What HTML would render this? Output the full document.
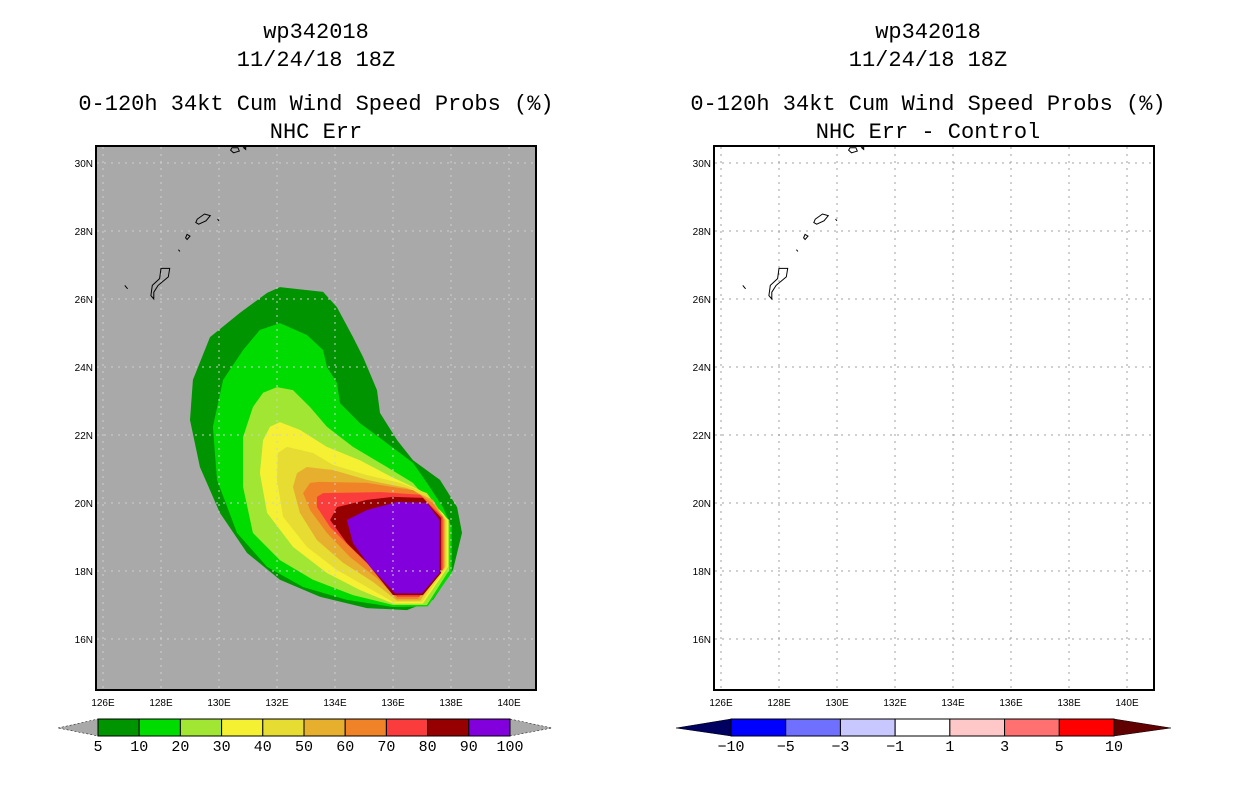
<!DOCTYPE html>
<html><head><meta charset="utf-8"><style>
html,body{margin:0;padding:0;background:#fff;}
svg{display:block;font-family:"Liberation Sans",sans-serif;}
</style></head><body>
<svg id="c" width="1236" height="800" viewBox="0 0 1236 800">
</svg>
<script>
// ---- data ----
const lonTicks=[126,128,130,132,134,136,138,140];
const latTicks=[16,18,20,22,24,26,28,30];
const levels=[5,10,20,30,40,50,60,70,80,90];
const levelColors=['#009400','#00dc00','#a0e632','#f5f032','#e6dc32','#e6af2d','#f08228','#fa3c3c','#960000','#8200dc'];
const probLabels=['5','10','20','30','40','50','60','70','80','90','100'];
const diffLabels=['\u221210','\u22125','\u22123','\u22121','1','3','5','10'];
const diffColors=['#0000ff','#7070ff','#c8c8ff','#ffffff','#ffc8c8','#ff7070','#ff0000'];
const c5=[[132.10,26.35],[133.59,26.21],[134.07,25.76],[134.62,24.88],[134.97,24.29],[135.45,23.32],[135.55,22.65],[136.14,21.85],[136.69,21.26],[137.62,20.68],[138.21,19.88],[138.38,19.12],[138.07,18.03],[137.38,17.15],[136.48,16.85],[135.10,16.91],[133.48,17.24],[132.10,17.74],[130.97,18.53],[130.03,19.71],[129.34,21.06],[129.00,22.44],[129.10,23.62],[129.69,24.88],[130.72,25.59],[131.66,26.18]];
const c10=[[132.10,25.29],[133.03,24.94],[133.59,24.50],[133.72,24.00],[134.07,23.53],[134.17,22.94],[134.86,22.35],[135.79,21.76],[136.69,21.18],[137.17,20.59],[137.72,19.88],[138.02,19.29],[138.02,17.94],[137.20,16.96],[136.00,16.94],[134.41,17.15],[132.90,17.53],[131.66,18.12],[130.62,19.12],[129.93,20.68],[129.79,22.24],[130.14,23.62],[130.83,24.50],[131.41,25.09]];
const c20=[[132.00,23.41],[132.55,23.32],[133.14,22.82],[133.72,22.24],[134.62,21.65],[135.79,21.06],[136.69,20.59],[137.38,19.88],[137.94,19.50],[137.94,18.03],[137.17,17.00],[136.00,17.00],[134.62,17.29],[133.24,17.74],[132.10,18.32],[131.17,19.12],[130.83,20.47],[130.83,21.94],[131.17,22.82],[131.52,23.24]];
const c30=[[132.10,22.38],[132.79,22.15],[133.72,21.65],[134.86,21.26],[135.97,20.76],[136.93,20.38],[137.72,19.70],[137.90,19.50],[137.90,18.12],[137.03,17.04],[136.00,17.04],[134.86,17.44],[133.72,17.94],[132.55,18.71],[131.66,19.71],[131.41,20.88],[131.52,21.85],[131.76,22.24]];
const c40=[[132.34,21.65],[133.24,21.47],[133.93,21.12],[135.10,20.82],[136.24,20.59],[137.17,20.29],[137.85,19.50],[137.85,18.12],[137.00,17.09],[136.00,17.09],[135.10,17.53],[134.07,18.03],[133.03,18.71],[132.21,19.59],[132.00,20.68],[132.03,21.47]];
const c50=[[133.03,21.06],[133.93,20.97],[135.10,20.68],[136.48,20.44],[137.38,20.09],[137.80,19.50],[137.80,18.12],[136.93,17.13],[136.14,17.13],[135.31,17.68],[134.28,18.24],[133.38,18.91],[132.79,19.71],[132.55,20.47],[132.69,20.88]];
const c60=[[133.48,20.62],[135.10,20.59],[136.69,20.38],[137.38,20.00],[137.76,19.50],[137.76,18.09],[136.86,17.18],[136.14,17.18],[135.45,17.79],[134.52,18.41],[133.72,19.12],[133.14,19.79],[132.90,20.29],[133.14,20.59]];
const c70=[[133.59,20.29],[135.55,20.32],[136.93,20.24],[137.71,19.59],[137.71,18.03],[136.90,17.24],[136.14,17.24],[135.45,17.94],[134.62,18.62],[133.83,19.29],[133.38,19.88],[133.38,20.18]];
const c80=[[134.07,19.88],[135.10,20.09],[136.00,20.18],[137.03,20.15],[137.66,19.56],[137.66,17.94],[137.03,17.29],[136.00,17.29],[135.10,18.24],[134.41,18.82],[133.83,19.50]];
const c90=[[134.41,19.50],[135.10,19.79],[136.14,20.03],[137.17,20.00],[137.60,19.50],[137.60,17.94],[137.00,17.34],[136.07,17.34],[135.21,18.12],[134.62,18.82]];
const contours=[c5,c10,c20,c30,c40,c50,c60,c70,c80,c90];
// islands (lon,lat)
const islands=[
 [[130.45,30.45],[130.65,30.45],[130.7,30.35],[130.5,30.3],[130.4,30.38]],
 [[130.85,30.45],[130.92,30.48],[130.92,30.4]],
 [[129.25,28.35],[129.5,28.5],[129.7,28.45],[129.55,28.3],[129.3,28.2],[129.2,28.25]],
 [[129.95,28.35],[130.0,28.3]],
 [[128.9,27.9],[129.0,27.85],[128.9,27.75],[128.85,27.8]],
 [[128.6,27.45],[128.65,27.4]],
 [[128.0,26.9],[128.3,26.9],[128.25,26.65],[127.9,26.4],[127.75,26.2],[127.75,26.0],[127.65,26.1],[127.7,26.4],[127.95,26.6]],
 [[126.75,26.4],[126.85,26.3]]
];
const NS='http://www.w3.org/2000/svg';
const svg=document.getElementById('c');
function mk(t,a,p){const e=document.createElementNS(NS,t);for(const k in a)e.setAttribute(k,a[k]);(p||svg).appendChild(e);return e;}
function panel(ox){
  const x=lon=>ox+103+(lon-126)*29;
  const y=lat=>163+(30-lat)*34;
  return {x,y};
}
function titles(cx,sub,grp){
  const lines=[['wp342018',31,'title-storm-id'],['11/24/18 18Z',59,'title-date'],['0-120h 34kt Cum Wind Speed Probs (%)',103,'title-product'],[sub,131,'subtitle']];
  for(const [t,yy,n] of lines){const e=mk('text',{x:cx,y:yy+7,'text-anchor':'middle','font-size':'22','font-family':'"Liberation Mono",monospace',fill:'#000'},grp);e.textContent=t;
    
    }
}
function map(ox,bg,gridCol,fill){
  const {x,y}=panel(ox);
  const g=mk('g',{});
  
  
  mk('rect',{x:ox+96,y:146,width:440,height:544,fill:bg},g);
  if(fill){
    contours.forEach((pts,i)=>{
      const p=mk('polygon',{points:pts.map(q=>x(q[0]).toFixed(1)+','+y(q[1]).toFixed(1)).join(' '),fill:levelColors[i]},g);
      
      
    });
  }
  lonTicks.forEach(l=>{const e=mk('line',{x1:x(l),x2:x(l),y1:147,y2:689,stroke:gridCol,'stroke-width':1,'stroke-dasharray':'2,5'},g);
    });
  latTicks.forEach(l=>{const e=mk('line',{x1:ox+97,x2:ox+535,y1:y(l),y2:y(l),stroke:gridCol,'stroke-width':1,'stroke-dasharray':'2,5'},g);
    });
  islands.forEach(pts=>{const p=mk('polygon',{points:pts.map(q=>x(q[0]).toFixed(1)+','+y(q[1]).toFixed(1)).join(' '),fill:'none',stroke:'#000','stroke-width':1},g);
    });
  mk('rect',{x:ox+96,y:146,width:440,height:544,fill:'none',stroke:'#000','stroke-width':2},g);
  lonTicks.forEach(l=>{const t=mk('text',{x:x(l),y:706,'text-anchor':'middle','font-size':'10',fill:'#000'},g);t.textContent=l+'E';
    });
  latTicks.forEach(l=>{const t=mk('text',{x:ox+93,y:y(l)+4,'text-anchor':'end','font-size':'10',fill:'#000'},g);t.textContent=l+'N';
    });
}
titles(316,'NHC Err');
titles(928,'NHC Err - Control');
map(0,'#a9a9a9','#d0d0d0',true);
map(618,'#ffffff','#a0a0a0',false);
(function(){
  const g=mk('g',{});
  
  const x0=98,x1=510,w=(x1-x0)/levelColors.length;
  mk('polygon',{points:`58,728 ${x0},719 ${x0},736`,fill:'#a9a9a9',stroke:'#000','stroke-width':0.5,'stroke-dasharray':'2,2'},g);
  mk('polygon',{points:`${x1},719 552,728 ${x1},736`,fill:'#a9a9a9',stroke:'#000','stroke-width':0.5,'stroke-dasharray':'2,2'},g);
  levelColors.forEach((col,i)=>{const r=mk('rect',{x:x0+i*w,y:719,width:w,height:17,fill:col,stroke:'#000','stroke-width':1},g);
    });
  probLabels.forEach((t,i)=>{const e=mk('text',{x:x0+i*w,y:751,'text-anchor':'middle','font-size':'15','font-family':'"Liberation Mono",monospace',fill:'#000'},g);e.textContent=t;
    });
})();
(function(){
  const g=mk('g',{});
  
  const x0=731,x1=1114,w=(x1-x0)/diffColors.length;
  mk('polygon',{points:`676,728 ${x0},719 ${x0},736`,fill:'#000060',stroke:'#000','stroke-width':0.5},g);
  mk('polygon',{points:`${x1},719 1171,728 ${x1},736`,fill:'#600000',stroke:'#000','stroke-width':0.5},g);
  diffColors.forEach((col,i)=>{const r=mk('rect',{x:x0+i*w,y:719,width:w,height:17,fill:col,stroke:'#000','stroke-width':1},g);
    });
  diffLabels.forEach((t,i)=>{const e=mk('text',{x:x0+i*w,y:751,'text-anchor':'middle','font-size':'15','font-family':'"Liberation Mono",monospace',fill:'#000'},g);e.textContent=t;
    });
})();
</script>
</body></html>
